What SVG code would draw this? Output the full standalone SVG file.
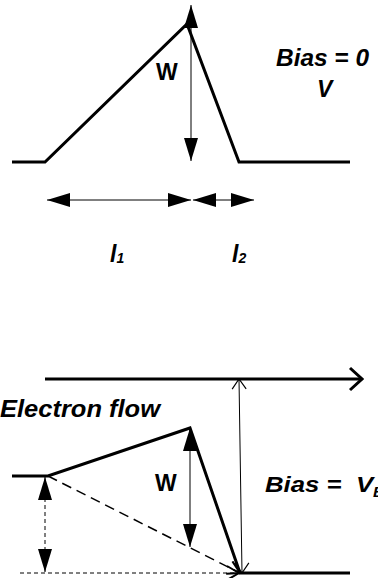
<svg xmlns="http://www.w3.org/2000/svg" width="378" height="578" viewBox="0 0 378 578">
<style>
.thick{stroke:#000;stroke-width:3;fill:none;stroke-linecap:butt;stroke-linejoin:miter}
.thin{stroke:#000;stroke-width:1;fill:none}
.dash{stroke:#000;stroke-width:1.5;fill:none;stroke-dasharray:10,6}
.sdash{stroke:#000;stroke-width:1;fill:none;stroke-dasharray:4,3}
.lbl{font-family:"Liberation Sans",Arial,sans-serif;font-weight:bold;font-size:23px;fill:#000}
.it{font-style:italic}
</style>
<defs>
<marker id="fa" viewBox="0 0 23 14" refX="23" refY="7" markerWidth="23" markerHeight="14" markerUnits="userSpaceOnUse" orient="auto-start-reverse"><path d="M0,0 L23,7 L0,14 z" fill="#000"/></marker>
<marker id="oa" viewBox="0 0 12 16" refX="11" refY="8" markerWidth="12" markerHeight="16" markerUnits="userSpaceOnUse" orient="auto-start-reverse"><path d="M1,1 L11,8 L1,15" fill="none" stroke="#000" stroke-width="1.2"/></marker>
<marker id="ob" viewBox="0 0 14 16" refX="13" refY="8" markerWidth="14" markerHeight="16" markerUnits="userSpaceOnUse" orient="auto"><path d="M1,1 L13,8 L1,15" fill="none" stroke="#000" stroke-width="2"/></marker>
<marker id="ch" viewBox="0 0 16 26" refX="14" refY="13" markerWidth="16" markerHeight="26" markerUnits="userSpaceOnUse" orient="auto"><path d="M2,2 L14,13 L2,24" fill="none" stroke="#000" stroke-width="3"/></marker>
</defs>

<g id="top-barrier">
<path class="thick" d="M12,162 L45,162 L187,24 L239,162 L350,162"/>
</g>
<g id="top-labels">
<text class="lbl" x="156" y="80">W</text>
<text class="lbl it" x="276" y="66" textLength="93" lengthAdjust="spacingAndGlyphs">Bias = 0</text>
<text class="lbl it" x="317" y="97">V</text>
<text class="lbl it" x="110" y="262" font-size="21">l<tspan font-size="14" dy="1">1</tspan></text>
<text class="lbl it" x="232" y="262" font-size="21">l<tspan font-size="14" dy="1">2</tspan></text>
</g>

<g id="bottom-barrier">
<path class="thick" d="M12,476 L48,476 L190,428 L240,573 L350,573"/>
</g>
<g id="bottom-labels">
<text class="lbl it" x="0" y="417" textLength="160" lengthAdjust="spacingAndGlyphs">Electron flow</text>
<text class="lbl" x="155" y="491">W</text>
<text class="lbl it" transform="translate(265,492) scale(1.12,1)" xml:space="preserve">Bias =  V<tspan font-size="14" dy="5">B</tspan></text>
</g>

<g id="connectors">
<line class="thin" x1="191" y1="5" x2="191" y2="161" marker-start="url(#fa)" marker-end="url(#fa)"/>
<line class="thin" x1="47" y1="200" x2="191" y2="200" marker-start="url(#fa)" marker-end="url(#fa)"/>
<line class="thin" x1="193" y1="200" x2="254" y2="200" marker-start="url(#fa)" marker-end="url(#fa)"/>
<line class="thick" x1="45" y1="379" x2="362" y2="379" marker-end="url(#ch)"/>
<line class="thin" x1="239" y1="379" x2="242" y2="573" marker-start="url(#oa)" marker-end="url(#oa)"/>
<line class="thin" x1="190" y1="428" x2="190" y2="547" marker-start="url(#fa)" marker-end="url(#fa)"/>
<line class="dash" x1="48" y1="476" x2="240" y2="573" marker-end="url(#ob)"/>
<line class="sdash" x1="45" y1="477" x2="45" y2="572" marker-start="url(#fa)" marker-end="url(#fa)"/>
<line class="sdash" x1="20" y1="573" x2="239" y2="573" marker-end="url(#ob)"/>
</g>
</svg>
